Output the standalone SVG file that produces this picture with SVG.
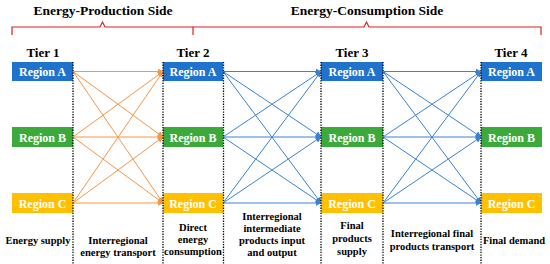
<svg xmlns="http://www.w3.org/2000/svg" width="550" height="264" viewBox="0 0 550 264">
<style>
.t{font-weight:bold;text-anchor:middle}
.hd{font-size:13.5px;fill:#000}
.tier{font-size:13px;fill:#000}
.rg{font-size:12px;fill:#fff}
.lb{font-size:10.5px;fill:#000}
.blue{fill:#1F73CC}
.green{fill:#3BAA3B}
.yel{fill:#FFC000}
.br{fill:none;stroke:#E02020;stroke-width:1.2}
.dot{stroke:#000;stroke-width:1.3;stroke-dasharray:1.3 1.3}
.oa{stroke:#F79646;stroke-width:1;fill:none;marker-end:url(#mo)}
.ba{stroke:#3A82D0;stroke-width:1;fill:none;marker-end:url(#mb)}
</style>
<defs>
<marker id="mo" markerWidth="6" markerHeight="6" refX="5.5" refY="3" orient="auto" markerUnits="userSpaceOnUse"><path d="M0,0 L6,3 L0,6 z" fill="#F79646"/></marker>
<marker id="mb" markerWidth="6" markerHeight="6" refX="5.5" refY="3" orient="auto" markerUnits="userSpaceOnUse"><path d="M0,0 L6,3 L0,6 z" fill="#3A82D0"/></marker>
</defs>
<g font-family="Liberation Serif, DejaVu Serif, serif">
<g id="headers">
<text class="t hd" x="103" y="15">Energy-Production Side</text>
<text class="t hd" x="367" y="15">Energy-Consumption Side</text>
<path class="br" d="M12,35 L12,27 L100,27 L102.5,22 L105,27 L193,27 L193,35"/>
<path class="br" d="M193,27 L364,27 L366.5,22 L369,27 L541,27 L541,35"/>
</g>
<g id="tiers">
<text class="t tier" x="43" y="57">Tier 1</text>
<text class="t tier" x="193" y="57">Tier 2</text>
<text class="t tier" x="352" y="57">Tier 3</text>
<text class="t tier" x="511" y="57">Tier 4</text>
</g>
<g id="connectors">
<path class="oa" d="M73,71.5 L163,71.5"/>
<path class="oa" d="M73,71.5 L163,137"/>
<path class="oa" d="M73,71.5 L163,203"/>
<path class="oa" d="M73,137 L163,71.5"/>
<path class="oa" d="M73,137 L163,137"/>
<path class="oa" d="M73,137 L163,203"/>
<path class="oa" d="M73,203 L163,71.5"/>
<path class="oa" d="M73,203 L163,137"/>
<path class="oa" d="M73,203 L163,203"/>
<path class="ba" d="M223,71.5 L321,71.5"/>
<path class="ba" d="M223,71.5 L321,137"/>
<path class="ba" d="M223,71.5 L321,203"/>
<path class="ba" d="M223,137 L321,71.5"/>
<path class="ba" d="M223,137 L321,137"/>
<path class="ba" d="M223,137 L321,203"/>
<path class="ba" d="M223,203 L321,71.5"/>
<path class="ba" d="M223,203 L321,137"/>
<path class="ba" d="M223,203 L321,203"/>
<path class="ba" d="M383,71.5 L481,71.5"/>
<path class="ba" d="M383,71.5 L481,137"/>
<path class="ba" d="M383,71.5 L481,203"/>
<path class="ba" d="M383,137 L481,71.5"/>
<path class="ba" d="M383,137 L481,137"/>
<path class="ba" d="M383,137 L481,203"/>
<path class="ba" d="M383,203 L481,71.5"/>
<path class="ba" d="M383,203 L481,137"/>
<path class="ba" d="M383,203 L481,203"/>
</g>
<g id="t1a"><rect class="blue" x="12" y="62" width="61" height="19"/><text class="t rg" x="42.5" y="76">Region A</text></g>
<g id="t1b"><rect class="green" x="12" y="127" width="61" height="20"/><text class="t rg" x="42.5" y="141.5">Region B</text></g>
<g id="t1c"><rect class="yel" x="12" y="193" width="61" height="20"/><text class="t rg" x="42.5" y="207.5">Region C</text></g>
<g id="t2a"><rect class="blue" x="163" y="62" width="60" height="19"/><text class="t rg" x="193" y="76">Region A</text></g>
<g id="t2b"><rect class="green" x="163" y="127" width="60" height="20"/><text class="t rg" x="193" y="141.5">Region B</text></g>
<g id="t2c"><rect class="yel" x="163" y="193" width="60" height="20"/><text class="t rg" x="193" y="207.5">Region C</text></g>
<g id="t3a"><rect class="blue" x="321" y="62" width="62" height="19"/><text class="t rg" x="352" y="76">Region A</text></g>
<g id="t3b"><rect class="green" x="321" y="127" width="62" height="20"/><text class="t rg" x="352" y="141.5">Region B</text></g>
<g id="t3c"><rect class="yel" x="321" y="193" width="62" height="20"/><text class="t rg" x="352" y="207.5">Region C</text></g>
<g id="t4a"><rect class="blue" x="481" y="62" width="61" height="19"/><text class="t rg" x="511.5" y="76">Region A</text></g>
<g id="t4b"><rect class="green" x="481" y="127" width="61" height="20"/><text class="t rg" x="511.5" y="141.5">Region B</text></g>
<g id="t4c"><rect class="yel" x="481" y="193" width="61" height="20"/><text class="t rg" x="511.5" y="207.5">Region C</text></g>
<g id="dividers">
<line class="dot" x1="73" y1="62" x2="73" y2="264"/>
<line class="dot" x1="163" y1="62" x2="163" y2="264"/>
<line class="dot" x1="223.5" y1="62" x2="223.5" y2="264"/>
<line class="dot" x1="321" y1="62" x2="321" y2="264"/>
<line class="dot" x1="383" y1="62" x2="383" y2="264"/>
<line class="dot" x1="481" y1="62" x2="481" y2="264"/>
</g>
<g id="labels">
<text class="t lb" x="38" y="244">Energy supply</text>
<text class="t lb" x="118" y="244">Interregional</text>
<text class="t lb" x="118" y="256">energy transport</text>
<text class="t lb" x="193" y="231">Direct</text>
<text class="t lb" x="193" y="243">energy</text>
<text class="t lb" x="193" y="255">consumption</text>
<text class="t lb" x="272" y="220">Interregional</text>
<text class="t lb" x="272" y="232">intermediate</text>
<text class="t lb" x="272" y="244">products input</text>
<text class="t lb" x="272" y="256">and output</text>
<text class="t lb" x="352" y="229">Final</text>
<text class="t lb" x="352" y="242">products</text>
<text class="t lb" x="352" y="255">supply</text>
<text class="t lb" x="432" y="237">Interregional final</text>
<text class="t lb" x="432" y="250">products transport</text>
<text class="t lb" x="514" y="244">Final demand</text>
</g>
</g>
</svg>
